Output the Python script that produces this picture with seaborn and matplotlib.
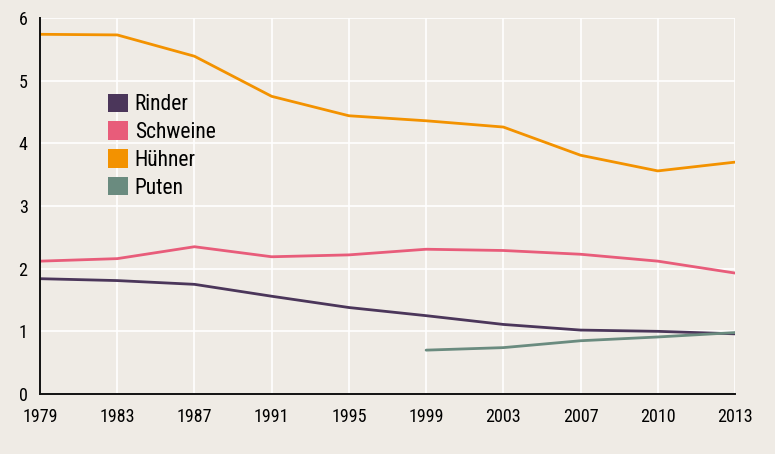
import numpy as np
import pandas as pd
import matplotlib
matplotlib.use("Agg")
import matplotlib.pyplot as plt
from matplotlib.patches import Patch
import seaborn as sns

years = ["1979", "1983", "1987", "1991", "1995", "1999", "2003", "2007", "2010", "2013"]
rinder = [1.84, 1.81, 1.75, 1.56, 1.38, 1.25, 1.11, 1.02, 1.00, 0.96]
schweine = [2.12, 2.16, 2.35, 2.19, 2.22, 2.31, 2.29, 2.23, 2.12, 1.93]
huehner = [5.74, 5.73, 5.39, 4.75, 4.44, 4.36, 4.26, 3.81, 3.56, 3.70]
puten = [np.nan, np.nan, np.nan, np.nan, np.nan, 0.70, 0.74, 0.85, 0.91, 0.98]

series_names = ["Rinder", "Schweine", "Hühner", "Puten"]
series_values = [rinder, schweine, huehner, puten]
colors = ["#4b365a", "#e85c7a", "#f39200", "#6a8b7f"]

rows = []
for name, vals in zip(series_names, series_values):
    for i, v in enumerate(vals):
        if not np.isnan(v):
            rows.append({"pos": i, "wert": v, "tier": name})
df = pd.DataFrame(rows)

bg = "#efebe5"
ink = "#000000"
sns.set_theme(style="white")
plt.rcParams["font.family"] = ["Roboto Condensed", "DejaVu Sans"]
plt.rcParams["font.weight"] = "normal"

fig = plt.figure(figsize=(7.75, 4.54), dpi=100, facecolor=bg)
ax = fig.add_axes([40 / 775, 1 - 394 / 454, 695 / 775, 376 / 454])
ax.set_facecolor(bg)

sns.lineplot(data=df, x="pos", y="wert", hue="tier", hue_order=series_names,
             palette=colors, linewidth=2.0, legend=False, ax=ax)

ax.set_xlim(0, len(years) - 1)
ax.set_ylim(0, 6)
ax.set_xticks(range(len(years)))
ax.set_xticklabels(years)
ax.set_yticks(range(0, 7))
ax.set_xlabel("")
ax.set_ylabel("")

ax.grid(True, color="white", linewidth=1.2)
ax.set_axisbelow(True)
for s in ["top", "right"]:
    ax.spines[s].set_visible(False)
for s in ["left", "bottom"]:
    ax.spines[s].set_color("#111111")
    ax.spines[s].set_linewidth(1.4)
    ax.spines[s].set_zorder(5)

ax.tick_params(axis="both", which="major", length=7, width=1.2, color="#111111",
               labelsize=13, labelcolor=ink, direction="out", pad=2)
ax.tick_params(axis="x", pad=3)
for lab in ax.get_xticklabels():
    lab.set_clip_on(False)

handles = [Patch(facecolor=c, edgecolor="none", label=n) for n, c in zip(series_names, colors)]
fig.legend(handles=handles, loc="upper left", bbox_to_anchor=(97 / 775, 1 - 83 / 454),
           frameon=False, fontsize=15.5, handlelength=0.95, handleheight=0.95,
           handletextpad=0.3, labelspacing=0.28, borderpad=0, labelcolor=ink)

fig.savefig("out.png", dpi=100, facecolor=bg)
